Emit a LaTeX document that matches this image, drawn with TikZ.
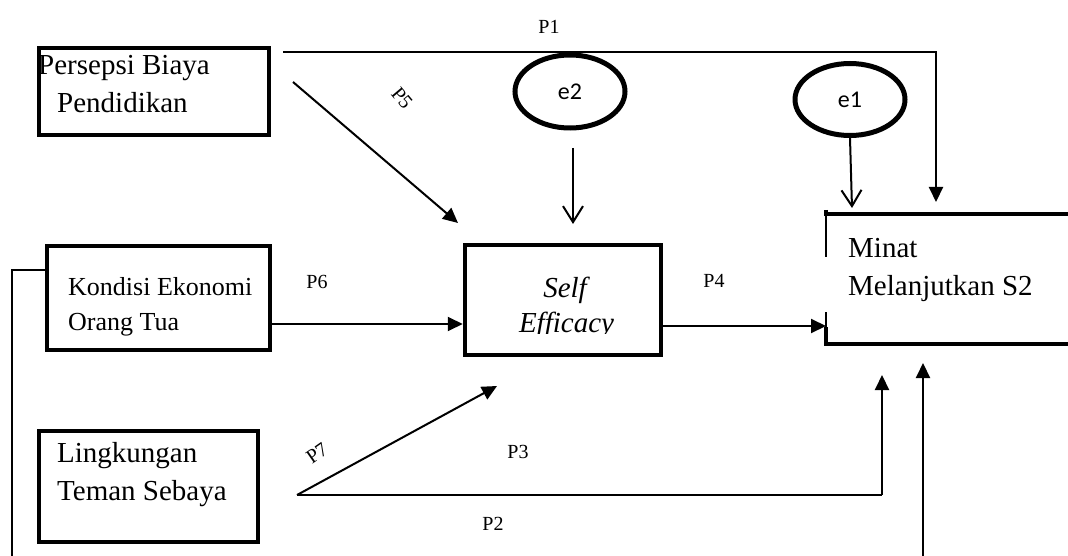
\documentclass[tikz,border=0pt]{standalone}
\usepackage{fontspec}
\setmainfont{Liberation Serif}
\newfontfamily\califont{Carlito}
\usetikzlibrary{arrows.meta,shapes.geometric}
\begin{document}
\begin{tikzpicture}[x=1pt,y=-1pt,
  boxnode/.style={draw, line width=4.5pt, rectangle, inner sep=0pt},
  errnode/.style={draw, line width=5pt, ellipse, inner sep=0pt, font=\califont\fontsize{24}{28}\selectfont},
  bigtxt/.style={anchor=base west, inner sep=0pt, font=\fontsize{29}{38}\selectfont},
  midtxt/.style={anchor=base west, inner sep=0pt, font=\fontsize{26}{34}\selectfont},
  plab/.style={inner sep=0pt, font=\fontsize{20}{24}\selectfont},
  arr/.style={line width=2pt, -{Triangle[length=15pt,width=14pt]}},
  openarr/.style={line width=2pt, -{Straight Barb[length=16pt,width=20pt,line width=2pt]}},
  thin/.style={line width=1.3pt}]
\useasboundingbox (0,0) rectangle (1068,556);
% boxes
\node[boxnode, minimum width=230pt, minimum height=87pt] (pb) at (154,91.5) {};
\node[boxnode, minimum width=223pt, minimum height=104pt] (ke) at (158.5,298) {};
\node[boxnode, minimum width=219pt, minimum height=111pt] (lt) at (148.5,486.5) {};
\node[boxnode, minimum width=196pt, minimum height=110pt] (se) at (563,300) {};
% Minat box (open on the right)
\coordinate (mtl) at (826,214);
\coordinate (mbl) at (826,344);
\draw[line width=4.5pt] ([yshift=4pt]mtl) -- (mtl) -- (1072,214);
\draw[line width=1.3pt] (mtl) -- (826,257);
\draw[line width=1.3pt] (826,312) -- (826,327);
\draw[line width=4.5pt] (826,327) -- (mbl) -- (1072,344);
% texts
\node[bigtxt] (pb1) at (38,75) {Persepsi Biaya};
\node[bigtxt] (pb2) at (57,113) {Pendidikan};
\node[midtxt] (ke1) at (68,295) {Kondisi Ekonomi};
\node[midtxt] (ke2) at (68,330) {Orang Tua};
\node[bigtxt] (lt1) at (57,462) {Lingkungan};
\node[bigtxt] (lt2) at (57,500) {Teman Sebaya};
\node[bigtxt] (mi1) at (848,257) {Minat};
\node[bigtxt] (mi2) at (848,295) {Melanjutkan S2};
\node[anchor=base, inner sep=0pt, font=\itshape\fontsize{29}{35}\selectfont] (se1) at (565,297) {Self};
\begin{scope}
\clip (465,245) rectangle (661,333);
\node[anchor=base, inner sep=0pt, font=\itshape\fontsize{29}{35}\selectfont] (se2) at (566.5,332) {Efficacy};
\end{scope}
% error terms
\node[errnode, minimum width=110pt, minimum height=73pt] (e2) at (570,91.5) {e2};
\node[errnode, minimum width=110pt, minimum height=72pt] (e1) at (850,99.5) {e1};
% free ends
\coordinate (p1s) at (283,52);
\coordinate (p1c) at (936,52);
\coordinate (p1e) at (936,202);
\coordinate (p5s) at (293,82);
\coordinate (p5e) at (458,223);
\coordinate (e2s) at (573,148);
\coordinate (e2e) at (573,224);
\coordinate (e1e) at (852,208);
\coordinate (p7s) at (297,495);
\coordinate (p7e) at (497,386);
\coordinate (p2c) at (882,495);
\coordinate (p2e) at (882,375);
\coordinate (rbs) at (923,556);
\coordinate (rbe) at (923,363);
\coordinate (lc1) at (12,270);
\coordinate (lc2) at (12,556);
% connectors
\draw[arr] (p1s) -- (p1c) -- (p1e);
\draw[arr] (p5s) -- (p5e);
\draw[openarr] (e2s) -- (e2e);
\draw[openarr] (e1.south) -- (e1e);
\draw[arr] (ke.east |- 0,324) -- (se.west |- 0,324);
\draw[arr] (se.east |- 0,326) -- (mtl |- 0,326);
\draw[arr] (p7s) -- (p7e);
\draw[line width=2pt] (p7s) -- (p2c);
\draw[arr] (p2c) -- (p2e);
\draw[arr] (rbs) -- (rbe);
\draw[thin] (ke.west |- lc1) -- (lc1) -- (lc2);
% path labels
\node[plab] (P1) at (549,27) {P1};
\node[plab, rotate=-50] (P5) at (402,98) {P5};
\node[plab] (P6) at (317,282) {P6};
\node[plab] (P4) at (714,281) {P4};
\node[plab, rotate=35] (P7) at (317,453) {P7};
\node[plab] (P3) at (518,452) {P3};
\node[plab] (P2) at (493,524) {P2};
\end{tikzpicture}
\end{document}
